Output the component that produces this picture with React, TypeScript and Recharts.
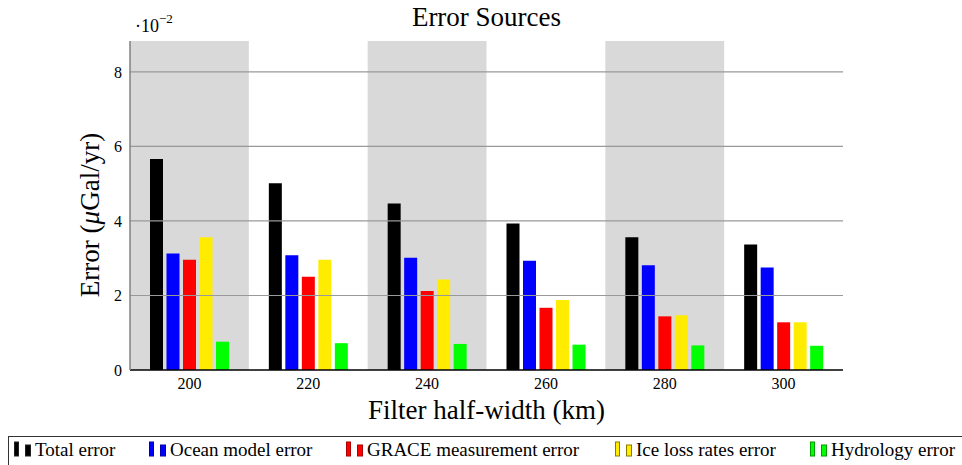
import React from 'react';
import { BarChart, Bar, XAxis, YAxis, ReferenceArea, ReferenceLine, Customized } from 'recharts';

const categories = ['200', '220', '240', '260', '280', '300'];
const totalError = [5.66, 5.01, 4.47, 3.93, 3.56, 3.37];
const oceanError = [3.13, 3.08, 3.01, 2.93, 2.81, 2.75];
const graceError = [2.96, 2.5, 2.12, 1.67, 1.44, 1.28];
const iceError = [3.56, 2.96, 2.43, 1.88, 1.47, 1.28];
const hydroError = [0.76, 0.72, 0.7, 0.68, 0.66, 0.65];
const yTicks = [0, 2, 4, 6, 8];
const gridValues = [2, 4, 6, 8];
const shadedCategories = ['200', '240', '280'];
const seriesNames = ['Total error', 'Ocean model error', 'GRACE measurement error', 'Ice loss rates error', 'Hydrology error'];
const seriesKeys = ['total', 'ocean', 'grace', 'ice', 'hydro'];

const colors = ['#000000', '#0000ff', '#ff0000', '#ffec00', '#00ff00'];
const edgeColors = ['#222222', '#0000aa', '#aa0000', '#8a7a00', '#009900'];
const legendLeft = [13, 148, 345, 614, 809];

const data = categories.map((c, i) => ({
  cat: c,
  total: totalError[i],
  ocean: oceanError[i],
  grace: graceError[i],
  ice: iceError[i],
  hydro: hydroError[i],
}));

const FONT = '"Liberation Serif", "Times New Roman", serif';

const XTick = (props: any) => {
  const { x, y, payload } = props;
  return (
    <text x={x} y={y} dy="0.71em" textAnchor="middle" fontFamily={FONT} fontSize={16} fill="#000">
      {payload.value}
    </text>
  );
};

const YTick = (props: any) => {
  const { x, y, payload } = props;
  return (
    <text x={x} y={y} dy="0.355em" textAnchor="end" fontFamily={FONT} fontSize={16} fill="#000">
      {payload.value}
    </text>
  );
};

const Texts = () => (
  <g fontFamily={FONT} fill="#000">
    <text x={486.5} y={26} textAnchor="middle" fontSize={27}>Error Sources</text>
    <text x={135} y={32} fontSize={18}>
      ·10<tspan dy={-9} fontSize={13}>−2</tspan>
    </text>
    <text x={486.5} y={419} textAnchor="middle" fontSize={27}>Filter half-width (km)</text>
    <text
      x={99}
      y={215}
      textAnchor="middle"
      fontSize={27}
      transform="rotate(-90 99 215)"
    >
      Error (<tspan fontStyle="italic">μ</tspan>Gal/yr)
    </text>
  </g>
);

export default function App() {
  return (
    <div style={{ position: 'absolute', left: 0, top: 0, width: 962, height: 465, overflow: 'hidden', background: '#fff', fontFamily: FONT }}>
      <BarChart
        width={962}
        height={465}
        data={data}
        margin={{ top: 41, right: 119, bottom: 65, left: 70 }}
        barSize={13}
        barGap={3.5}
      >
        <XAxis
          dataKey="cat"
          height={30}
          tickLine={false}
          axisLine={{ stroke: '#000', strokeWidth: 1.5 }}
          tick={<XTick />}
        />
        <YAxis
          width={60}
          domain={[0, 8.83]}
          ticks={yTicks}
          allowDataOverflow
          tickLine={false}
          axisLine={{ stroke: '#808080', strokeWidth: 1.5 }}
          tick={<YTick />}
        />
        {shadedCategories.map((c) => (
          <ReferenceArea key={c} x1={c} x2={c} fill="#d9d9d9" fillOpacity={1} stroke="none" ifOverflow="visible" />
        ))}
        {seriesKeys.map((k, i) => (
          <Bar key={k} dataKey={k} name={seriesNames[i]} fill={colors[i]} isAnimationActive={false} />
        ))}
        {gridValues.map((v) => (
          <ReferenceLine key={v} y={v} stroke="#999999" strokeWidth={1.2} />
        ))}
        <Customized component={Texts} />
      </BarChart>
      <div
        style={{
          position: 'absolute',
          left: 8,
          top: 436,
          width: 970,
          height: 40,
          border: '1px solid #333',
          boxSizing: 'border-box',
          fontFamily: FONT,
          fontSize: 19,
        }}
      >
        {seriesNames.map((name, i) => (
          <div key={name} style={{ position: 'absolute', left: legendLeft[i] - 8, top: 0, height: 30, whiteSpace: 'nowrap' }}>
            <svg width={20} height={30} style={{ position: 'absolute', left: 0, top: 0 }}>
              <rect x={0.5} y={5} width={4} height={14} fill={colors[i]} stroke={edgeColors[i]} strokeWidth={1} />
              <rect x={11.5} y={8} width={5} height={11} fill={colors[i]} stroke={edgeColors[i]} strokeWidth={1} />
            </svg>
            <span style={{ position: 'absolute', left: 21, top: 2, lineHeight: '22px' }}>{name}</span>
          </div>
        ))}
      </div>
    </div>
  );
}
